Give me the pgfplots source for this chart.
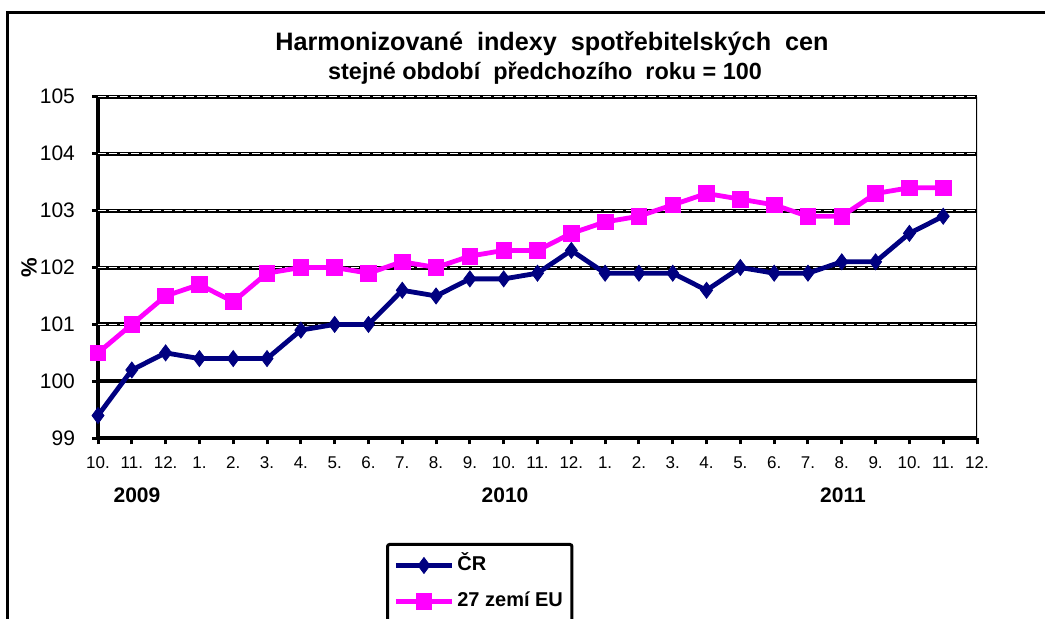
\documentclass[border=0pt]{standalone}
\usepackage{fontspec}
\setmainfont{Liberation Sans}
\usepackage{pgfplots}
\pgfplotsset{compat=1.18}
\definecolor{cr}{RGB}{0,0,128}
\definecolor{eu}{RGB}{255,0,255}
\begin{document}
\begin{tikzpicture}
\useasboundingbox (0,0) rectangle (526pt,309.5pt);
\draw[line width=1.5pt] (3.5pt,-5pt) -- (3.5pt,303pt) -- (522.5pt,303pt);
\node[font=\bfseries\fontsize{12.6}{14}\selectfont] at (276pt,287.5pt) {Harmonizované\ \ indexy\ \ spotřebitelských\ \ cen};
\node[font=\bfseries\fontsize{11.7}{14}\selectfont] at (272.5pt,273pt) {stejné období\ \ předchozího\ \ roku = 100};
\node[font=\bfseries\fontsize{10.5}{12}\selectfont] at (68.5pt,62pt) {2009};
\node[font=\bfseries\fontsize{10.5}{12}\selectfont] at (252.5pt,62pt) {2010};
\node[font=\bfseries\fontsize{10.5}{12}\selectfont] at (421.5pt,62pt) {2011};
\begin{axis}[
  at={(49pt,90.35pt)}, anchor=south west,
  width=439.5pt, height=170.8pt, scale only axis,
  xmin=0, xmax=26, ymin=99, ymax=105,
  xtick={0,...,26},
  xticklabels={10.,11.,12.,1.,2.,3.,4.,5.,6.,7.,8.,9.,10.,11.,12.,1.,2.,3.,4.,5.,6.,7.,8.,9.,10.,11.,12.},
  ytick={99,...,105},
  axis x line*=bottom, axis y line*=left,
  x axis line style={-, line width=2pt},
  y axis line style={-, line width=2pt},
  tick align=outside, major tick length=3pt,
  tick style={black, line width=1.5pt},
  /pgf/number format/assume math mode=true,
  yticklabel style={font=\fontsize{10.5}{12}\selectfont, xshift=-5pt},
  xticklabel style={font=\fontsize{8.5}{10}\selectfont, anchor=north, text height=6.2pt, text depth=0pt, yshift=-2.5pt},
  ymajorgrids=true,
  major grid style={black, line width=2pt},
  extra y ticks={101,102,103,104,105},
  extra y tick labels={},
  extra y tick style={major tick length=0pt, major grid style={white, line width=0.45pt, dash pattern=on 4pt off 1.5pt}},
  ylabel={\%},
  ylabel style={font=\bfseries\fontsize{11}{12}\selectfont, at={(axis description cs:-0.0785,0.5)}, anchor=center},
  legend style={at={(0.3277,-0.3065)}, anchor=north west, draw=black, line width=1.5pt, rounded corners=1pt,
    font=\bfseries\fontsize{10}{11}\selectfont, inner xsep=3pt, inner ysep=4.5pt, row sep=6pt,
    nodes={text height=7.2pt, text depth=1.8pt, inner sep=1.5pt}},
  legend cell align=left,
  legend image code/.code={\draw[mark repeat=2, mark phase=2, #1] plot coordinates {(0pt,0pt) (14pt,0pt) (28pt,0pt)};},
]
\addplot[cr, line width=2.4pt, mark=diamond*, mark size=4pt, mark options={solid, line width=0.4pt}] coordinates {
(0,99.4) (1,100.2) (2,100.5) (3,100.4) (4,100.4) (5,100.4) (6,100.9) (7,101.0) (8,101.0) (9,101.6)
(10,101.5) (11,101.8) (12,101.8) (13,101.9) (14,102.3) (15,101.9) (16,101.9) (17,101.9) (18,101.6)
(19,102.0) (20,101.9) (21,101.9) (22,102.1) (23,102.1) (24,102.6) (25,102.9)};
\addlegendentry{ČR}
\addplot[eu, line width=2.4pt, mark=square*, mark size=3.9pt, mark options={solid, line width=0.4pt}] coordinates {
(0,100.5) (1,101.0) (2,101.5) (3,101.7) (4,101.4) (5,101.9) (6,102.0) (7,102.0) (8,101.9) (9,102.1)
(10,102.0) (11,102.2) (12,102.3) (13,102.3) (14,102.6) (15,102.8) (16,102.9) (17,103.1) (18,103.3)
(19,103.2) (20,103.1) (21,102.9) (22,102.9) (23,103.3) (24,103.4) (25,103.4)};
\addlegendentry{27 zemí EU}
\draw[black, line width=1.5pt] (rel axis cs:1,0) -- (rel axis cs:1,1);
\end{axis}
\end{tikzpicture}
\end{document}
